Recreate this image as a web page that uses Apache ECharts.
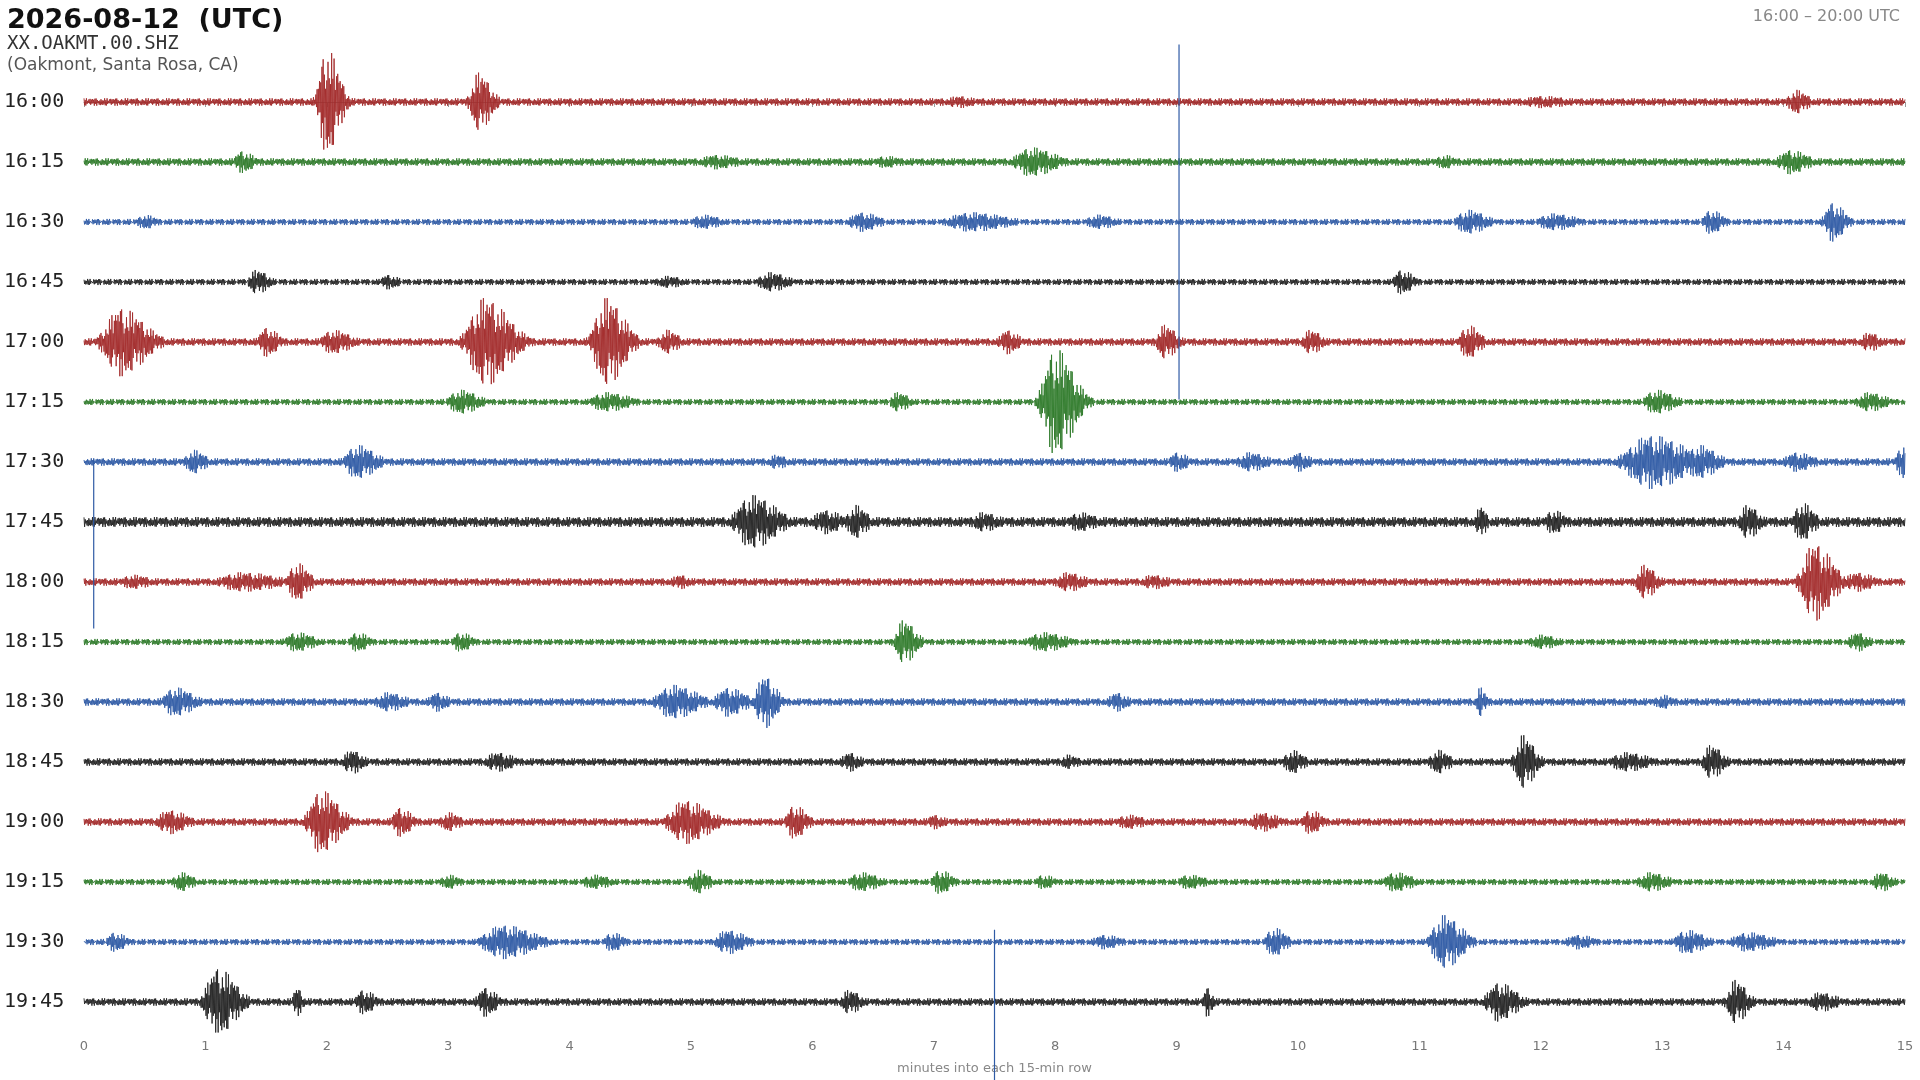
<!DOCTYPE html>
<html><head><meta charset="utf-8">
<script src="https://cdn.jsdelivr.net/npm/echarts@6/dist/echarts.min.js"></script>
<style>html,body{margin:0;padding:0;background:#fff}#c{width:1920px;height:1080px}</style>
</head><body><div id="c"></div>
<script>
// Row labels (each row = 15 minutes)
const rowLabels = ['16:00','16:15','16:30','16:45','17:00','17:15','17:30','17:45','18:00','18:15','18:30','18:45','19:00','19:15','19:30','19:45'];
const rowColors = ['#a32a2a','#2f7a2a','#2f5aa5','#222222'];
const xTicks = [0,1,2,3,4,5,6,7,8,9,10,11,12,13,14,15];
// Background noise half-amplitude per row (in px of reference at 49px/row)
const baseNoise = [3,3,2.5,2.5,3,2.5,3,4,3,2.5,3,3,3,2.5,2.5,3];
// Events per row: [minute, half-amplitude (ref px), duration (min)]
const ev00 = [[2.0,44,0.2],[3.25,24,0.2],[7.2,5,0.3],[12.0,5,0.5],[14.1,10,0.2]];
const ev15 = [[1.3,9,0.2],[5.2,6,0.4],[6.6,5,0.3],[7.8,12,0.4],[11.2,6,0.2],[14.05,10,0.3]];
const ev30 = [[0.5,6,0.2],[5.1,6,0.3],[6.4,8,0.3],[7.3,8,0.6],[8.35,6,0.3],[11.4,10,0.3],[12.1,7,0.4],[13.4,10,0.2],[14.4,16,0.2]];
const ev45 = [[1.42,10,0.2],[2.5,6,0.2],[4.8,5,0.3],[5.65,8,0.3],[10.85,10,0.2]];
const ev100 = [[0.3,28,0.4],[1.5,12,0.2],[2.05,10,0.3],[3.3,36,0.4],[4.3,36,0.3],[4.8,10,0.2],[7.6,10,0.2],[8.9,14,0.2],[10.1,10,0.2],[11.4,14,0.2],[14.7,8,0.2]];
const ev115 = [[3.1,10,0.3],[4.3,8,0.4],[6.7,8,0.2],[8.0,44,0.3],[12.95,10,0.3],[14.7,8,0.3]];
const ev130 = [[0.9,10,0.2],[2.25,14,0.3],[5.7,6,0.2],[9.0,8,0.2],[9.6,8,0.3],[10.0,8,0.2],[12.9,22,0.6],[13.3,14,0.3],[14.1,8,0.3],[15.0,16,0.2]];
const ev145 = [[5.5,22,0.4],[6.1,10,0.3],[6.35,14,0.2],[7.4,8,0.3],[8.2,8,0.3],[11.5,14,0.1],[12.1,10,0.2],[13.7,14,0.2],[14.15,16,0.2]];
const ev200 = [[0.4,6,0.3],[1.3,8,0.6],[1.75,16,0.2],[4.9,6,0.2],[8.1,8,0.3],[8.8,6,0.3],[12.85,14,0.2],[14.25,32,0.3],[14.6,8,0.3]];
const ev215 = [[1.75,8,0.3],[2.25,8,0.2],[3.1,8,0.2],[6.75,18,0.2],[7.9,8,0.4],[12.0,6,0.3],[14.6,8,0.2]];
const ev230 = [[0.75,12,0.3],[2.5,8,0.3],[2.9,8,0.2],[4.85,14,0.4],[5.3,12,0.3],[5.6,22,0.2],[8.5,8,0.2],[11.5,12,0.1],[13.0,6,0.2]];
const ev245 = [[2.2,10,0.2],[3.4,8,0.3],[6.3,8,0.2],[8.1,6,0.2],[9.95,10,0.2],[11.15,10,0.2],[11.85,22,0.2],[12.7,8,0.4],[13.4,14,0.2]];
const ev300 = [[0.7,10,0.3],[1.95,26,0.3],[2.6,12,0.2],[3.0,8,0.2],[4.95,18,0.4],[5.85,14,0.2],[7.0,6,0.2],[8.6,6,0.3],[9.7,8,0.3],[10.1,10,0.2]];
const ev315 = [[0.8,8,0.2],[3.0,6,0.2],[4.2,6,0.3],[5.05,10,0.2],[6.4,8,0.3],[7.05,10,0.2],[7.9,6,0.2],[9.1,6,0.3],[10.8,8,0.3],[12.9,8,0.3],[14.8,8,0.2]];
const ev330 = [[0.25,8,0.2],[3.45,14,0.5],[4.35,8,0.2],[5.3,10,0.3],[8.4,6,0.3],[9.8,12,0.2],[11.2,22,0.3],[12.3,6,0.3],[13.2,10,0.3],[13.7,8,0.4]];
const ev345 = [[1.1,28,0.3],[1.75,12,0.1],[2.3,10,0.2],[3.3,12,0.2],[6.3,10,0.2],[9.25,12,0.1],[11.65,16,0.3],[13.6,18,0.2],[14.3,8,0.3]];
const events = [ev00,ev15,ev30,ev45,ev100,ev115,ev130,ev145,ev200,ev215,ev230,ev245,ev300,ev315,ev330,ev345];
// Large spikes crossing rows: [row, minute, top px, bottom px]
const spikes = [[2,9.02,145,-145],[6,0.08,2,-136],[14,7.5,10,-140]];
// texture multipliers for the trace wiggle
const texture = [1,0.55,0.85,0.35,0.95,0.7,0.45,0.9,0.3,0.75,0.6,1,0.4,0.8,0.5,0.25,0.65];

const PX = 49; // ref px per row
function env(r,t){
  let a = baseNoise[r];
  for (const [c,amp,d] of events[r]) {
    const x = (t-c)/(0.5*d);
    const f = t < c ? Math.exp(-x*x*2) : Math.exp(-x*x*0.6);
    a = Math.max(a, amp*f);
  }
  return a/PX;
}
const series = [];
for (let r=0;r<16;r++){
  const pts=[];
  for (let i=0;i<=3000;i++){
    const t=i*0.005;
    const s=(i%2===0?1:-1)*texture[(i*7+r*3)%texture.length];
    pts.push([t, -r + s*env(r,t)]);
  }
  series.push({type:'line',data:pts,showSymbol:false,symbol:'none',animation:false,silent:true,
    lineStyle:{width:0.9,color:rowColors[r%4]}});
}
for (const [r,m,top,bot] of spikes){
  series.push({type:'line',data:[[m,-r+top/PX],[m,-r+bot/PX]],symbol:'none',animation:false,clip:false,
    lineStyle:{width:1.2,color:rowColors[r%4]}});
}
const chart = echarts.init(document.getElementById('c'));
chart.setOption({
  backgroundColor:'#fff',
  title:[
    {text:'2026-08-12  (UTC)',left:2,top:2,textStyle:{fontFamily:'DejaVu Sans',fontWeight:'bold',fontSize:27,color:'#111'}},
    {text:'XX.OAKMT.00.SHZ',left:2,top:30,textStyle:{fontFamily:'DejaVu Sans Mono',fontWeight:'normal',fontSize:19,color:'#333'}},
    {text:'(Oakmont, Santa Rosa, CA)',left:2,top:52,textStyle:{fontFamily:'DejaVu Sans',fontWeight:'normal',fontSize:17,color:'#555'}},
    {text:'16:00 – 20:00 UTC',right:15,top:4,textStyle:{fontFamily:'DejaVu Sans',fontWeight:'normal',fontSize:16,color:'#888'}}
  ],
  grid:{left:84,right:15,top:42,bottom:48,containLabel:false},
  xAxis:{type:'value',min:0,max:15,interval:1,
    name:'minutes into each 15-min row',nameLocation:'middle',nameGap:30,
    nameTextStyle:{color:'#888',fontSize:13,fontFamily:'DejaVu Sans'},
    axisLine:{lineStyle:{color:'#999'}},axisTick:{lineStyle:{color:'#999'}},
    axisLabel:{color:'#777',fontSize:13,fontFamily:'DejaVu Sans'},splitLine:{show:false}},
  yAxis:{type:'value',min:-15.5,max:1,
    axisLine:{show:false},axisTick:{show:false},splitLine:{show:false},
    axisLabel:{customValues:rowLabels.map((_,i)=>-i),formatter:v=>rowLabels[Math.round(-v)]||'',
      align:'left',margin:80,fontSize:20,fontFamily:'DejaVu Sans Mono',color:'#222'}},
  series
});
</script></body></html>
